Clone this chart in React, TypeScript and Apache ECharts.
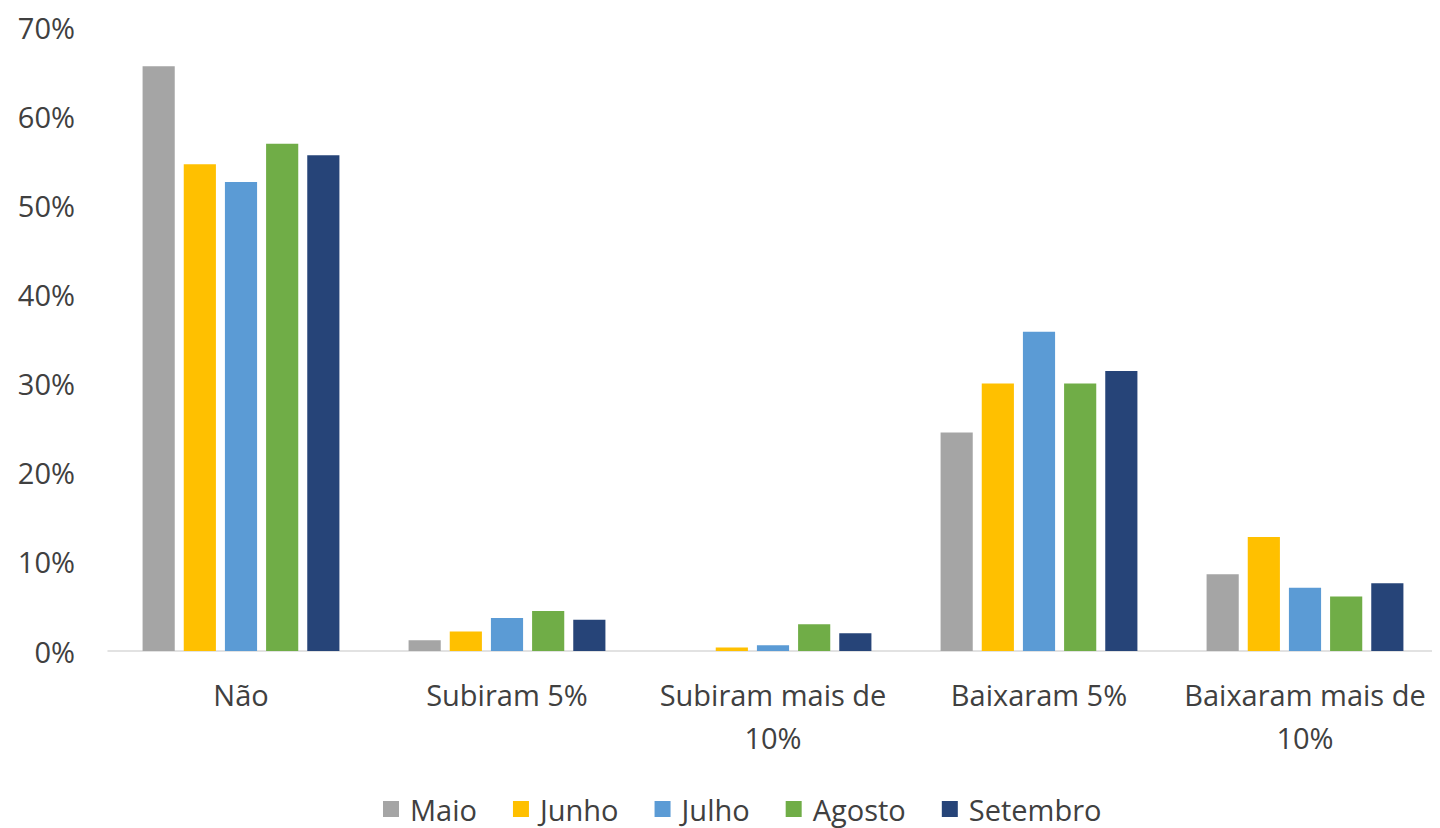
import React, { useEffect, useRef } from "react";
import * as echarts from "echarts";

const categories = ["Não", "Subiram 5%", "Subiram mais de 10%", "Baixaram 5%", "Baixaram mais de 10%"];
const seriesNames = ["Maio", "Junho", "Julho", "Agosto", "Setembro"];
const maio = [65.6, 1.2, 0, 24.5, 8.6];
const junho = [54.6, 2.2, 0.4, 30.0, 12.8];
const julho = [52.6, 3.7, 0.65, 35.8, 7.1];
const agosto = [56.9, 4.5, 3.0, 30.0, 6.1];
const setembro = [55.6, 3.5, 2.0, 31.4, 7.6];
const colors = ["#A5A5A5", "#FFC000", "#5B9BD5", "#70AD47", "#264478"];
const yTicks = { min: 0, max: 70, interval: 10 };

const FONT = "'Open Sans', Lato, sans-serif";

export default function App() {
  const ref = useRef<HTMLDivElement>(null);
  useEffect(() => {
    if (!ref.current) return;
    const chart = echarts.init(ref.current, undefined, { renderer: "svg" });
    const data = [maio, junho, julho, agosto, setembro];
    chart.setOption({
      animation: false,
      backgroundColor: "#ffffff",
      textStyle: { fontFamily: FONT },
      grid: { left: 108, right: 2, top: 27, bottom: 177, containLabel: false },
      legend: {
        top: 788,
        left: 378,
        padding: 5,
        itemWidth: 16,
        itemHeight: 16,
        itemGap: 36,
        icon: "rect",
        textStyle: {
          fontSize: 29,
          lineHeight: 32,
          color: "#404040",
          fontFamily: FONT,
          padding: [0, 0, 0, 6],
        },
        data: seriesNames,
      },
      xAxis: {
        type: "category",
        data: categories,
        axisLine: { lineStyle: { color: "#D9D9D9", width: 1.5 } },
        axisTick: { show: false },
        axisLabel: {
          interval: 0,
          hideOverlap: false,
          fontSize: 29,
          color: "#404040",
          margin: 22,
          lineHeight: 43,
          formatter: (v: string) => v.replace(" de ", " de\n"),
        },
      },
      yAxis: {
        type: "value",
        min: yTicks.min,
        max: yTicks.max,
        interval: yTicks.interval,
        splitLine: { show: false },
        axisLine: { show: false },
        axisTick: { show: false },
        axisLabel: {
          fontSize: 29,
          color: "#404040",
          margin: 33,
          formatter: (v: number) => v + "%",
        },
      },
      series: seriesNames.map((name, i) => ({
        name,
        type: "bar",
        data: data[i],
        itemStyle: { color: colors[i] },
        barGap: "28%",
        barCategoryGap: "26%",
      })),
    });
    return () => chart.dispose();
  }, []);
  return <div ref={ref} style={{ width: 1440, height: 828, marginLeft: -8, marginTop: -8 }} />;
}
